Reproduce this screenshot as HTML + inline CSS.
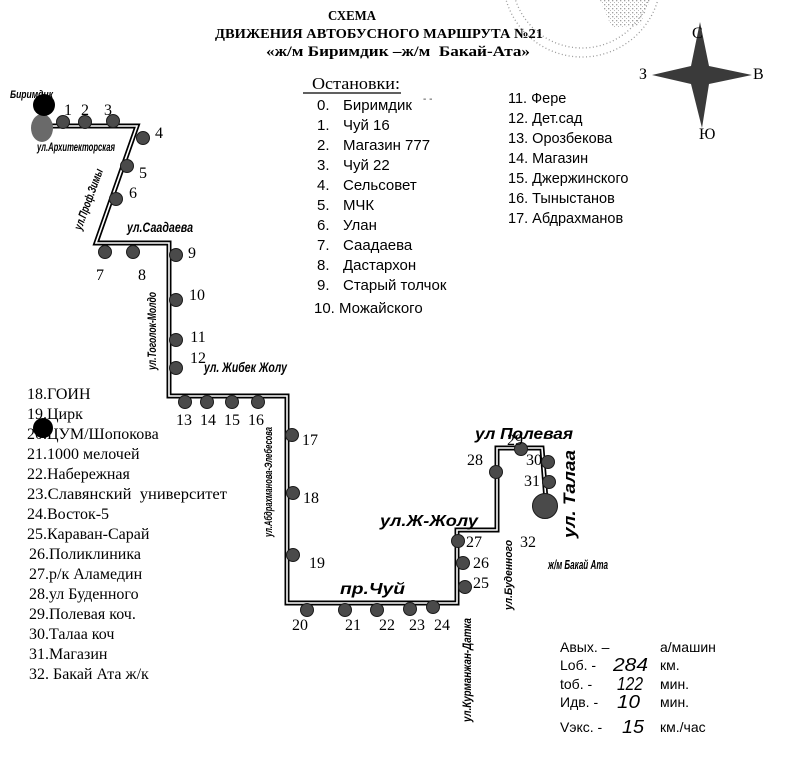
<!DOCTYPE html>
<html><head><meta charset="utf-8"><style>
html,body{margin:0;padding:0;background:#fff;}
svg{display:block;}
.ser{font-family:"Liberation Serif","DejaVu Serif",serif;}
.san{font-family:"Liberation Sans","DejaVu Sans",sans-serif;}
.st{font-family:"Liberation Sans","DejaVu Sans",sans-serif;font-style:italic;font-weight:bold;}
.num{font-family:"Liberation Serif",serif;font-size:16px;text-anchor:middle;}
</style></head><body>
<svg width="800" height="757" viewBox="0 0 800 757" xmlns="http://www.w3.org/2000/svg">
<defs>
<pattern id="spk" width="4" height="4" patternUnits="userSpaceOnUse">
<rect x="0" y="0" width="1.3" height="1.3" fill="#888"/>
<rect x="2" y="2" width="1" height="1" fill="#aaa"/>
</pattern>
</defs>
<rect width="800" height="757" fill="#fff"/>

<!-- stamp -->
<g fill="none" stroke="#999" stroke-width="1.3" stroke-dasharray="1 2.5">
<circle cx="582" cy="-22" r="79"/>
<circle cx="582" cy="-22" r="70"/>
</g>
<polygon points="600,0 650,0 640,25 612,28" fill="url(#spk)" opacity="0.8"/>

<!-- title -->
<text class="ser" x="328" y="20" font-size="14" font-weight="bold" textLength="48" lengthAdjust="spacingAndGlyphs">СХЕМА</text>
<text class="ser" x="215" y="38" font-size="14" font-weight="bold" textLength="328" lengthAdjust="spacingAndGlyphs">ДВИЖЕНИЯ АВТОБУСНОГО МАРШРУТА №21</text>
<text class="ser" x="266" y="56" font-size="15" font-weight="bold" textLength="264" lengthAdjust="spacingAndGlyphs">«ж/м Биримдик –ж/м&#160; Бакай-Ата»</text>

<!-- compass -->
<polygon points="700,22 709,66 752,75 709,84 702,128 691,84 652,75 691,66" fill="#3a3a3a"/>
<g class="ser" font-size="16">
<text x="692" y="38">С</text>
<text x="639" y="79">З</text>
<text x="753" y="79">В</text>
<text x="699" y="139">Ю</text>
</g>

<!-- stops list -->
<text class="ser" x="312" y="89" font-size="17" textLength="88" lengthAdjust="spacingAndGlyphs">Остановки:</text>
<line x1="303" y1="93" x2="401" y2="93" stroke="#000" stroke-width="1.2"/>
<g class="san" font-size="15">
<text x="317" y="110">0.</text><text x="343" y="110">Биримдик</text>
<text x="317" y="130">1.</text><text x="343" y="130">Чуй 16</text>
<text x="317" y="150">2.</text><text x="343" y="150">Магазин 777</text>
<text x="317" y="170">3.</text><text x="343" y="170">Чуй 22</text>
<text x="317" y="190">4.</text><text x="343" y="190">Сельсовет</text>
<text x="317" y="210">5.</text><text x="343" y="210">МЧК</text>
<text x="317" y="230">6.</text><text x="343" y="230">Улан</text>
<text x="317" y="250">7.</text><text x="343" y="250">Саадаева</text>
<text x="317" y="270">8.</text><text x="343" y="270">Дастархон</text>
<text x="317" y="290">9.</text><text x="343" y="290">Старый толчок</text>
<text x="314" y="313">10. Можайского</text>
</g>
<text x="423" y="102" font-size="10" fill="#333" class="san">- -</text>
<g class="san" font-size="14.5">
<text x="508" y="103">11. Фере</text>
<text x="508" y="123">12. Дет.сад</text>
<text x="508" y="143">13. Орозбекова</text>
<text x="508" y="163">14. Магазин</text>
<text x="508" y="183">15. Джержинского</text>
<text x="508" y="203">16. Тыныстанов</text>
<text x="508" y="223">17. Абдрахманов</text>
</g>

<!-- left list -->
<g class="ser" font-size="16">
<text x="27" y="399">18.ГОИН</text>
<text x="27" y="419">19.Цирк</text>
<text x="27" y="439">20.ЦУМ/Шопокова</text>
<text x="27" y="459">21.1000 мелочей</text>
<text x="27" y="479">22.Набережная</text>
<text x="27" y="499" textLength="200" lengthAdjust="spacingAndGlyphs">23.Славянский&#160; университет</text>
<text x="27" y="519">24.Восток-5</text>
<text x="27" y="539">25.Караван-Сарай</text>
<text x="29" y="559">26.Поликлиника</text>
<text x="29" y="579">27.р/к Аламедин</text>
<text x="29" y="599">28.ул Буденного</text>
<text x="29" y="619">29.Полевая коч.</text>
<text x="29" y="639">30.Талаа коч</text>
<text x="29" y="659">31.Магазин</text>
<text x="29" y="679">32. Бакай Ата ж/к</text>
</g>
<circle cx="43" cy="428" r="10" fill="#000"/>

<!-- road -->
<path d="M45,126 L137,126 L96,243 L169,243 L169,396 L287,396 L287,603 L457,603 L457,530 L497,530 L497,448 L542,448 L546,500" fill="none" stroke="#000" stroke-width="5"/>
<path d="M45,126 L137,126 L96,243 L169,243 L169,396 L287,396 L287,603 L457,603 L457,530 L497,530 L497,448 L542,448 L546,500" fill="none" stroke="#fff" stroke-width="1.6"/>

<!-- start -->
<text class="st" x="10" y="98" font-size="11" textLength="43" lengthAdjust="spacingAndGlyphs">Биримдик</text>
<ellipse cx="42" cy="128" rx="11" ry="14" fill="#6a6a6a"/>
<circle cx="44" cy="105" r="11" fill="#000"/>

<!-- stops -->
<g fill="#4a4a4a" stroke="#1a1a1a" stroke-width="1">
<circle cx="63" cy="122" r="6.5"/>
<circle cx="85" cy="122" r="6.5"/>
<circle cx="113" cy="121" r="6.5"/>
<circle cx="143" cy="138" r="6.5"/>
<circle cx="127" cy="166" r="6.5"/>
<circle cx="116" cy="199" r="6.5"/>
<circle cx="105" cy="252" r="6.5"/>
<circle cx="133" cy="252" r="6.5"/>
<circle cx="176" cy="255" r="6.5"/>
<circle cx="176" cy="300" r="6.5"/>
<circle cx="176" cy="340" r="6.5"/>
<circle cx="176" cy="368" r="6.5"/>
<circle cx="185" cy="402" r="6.5"/>
<circle cx="207" cy="402" r="6.5"/>
<circle cx="232" cy="402" r="6.5"/>
<circle cx="258" cy="402" r="6.5"/>
<circle cx="292" cy="435" r="6.5"/>
<circle cx="293" cy="493" r="6.5"/>
<circle cx="293" cy="555" r="6.5"/>
<circle cx="307" cy="610" r="6.5"/>
<circle cx="345" cy="610" r="6.5"/>
<circle cx="377" cy="610" r="6.5"/>
<circle cx="410" cy="609" r="6.5"/>
<circle cx="433" cy="607" r="6.5"/>
<circle cx="465" cy="587" r="6.5"/>
<circle cx="463" cy="563" r="6.5"/>
<circle cx="458" cy="541" r="6.5"/>
<circle cx="496" cy="472" r="6.5"/>
<circle cx="521" cy="449" r="6.5"/>
<circle cx="548" cy="462" r="6.5"/>
<circle cx="549" cy="482" r="6.5"/>
<circle cx="545" cy="506" r="12.5"/>
</g>

<!-- stop numbers -->
<g class="num">
<text x="68" y="115">1</text>
<text x="85" y="115">2</text>
<text x="108" y="115">3</text>
<text x="159" y="138">4</text>
<text x="143" y="178">5</text>
<text x="133" y="198">6</text>
<text x="100" y="280">7</text>
<text x="142" y="280">8</text>
<text x="192" y="258">9</text>
<text x="197" y="300">10</text>
<text x="198" y="342">11</text>
<text x="198" y="363">12</text>
<text x="184" y="425">13</text>
<text x="208" y="425">14</text>
<text x="232" y="425">15</text>
<text x="256" y="425">16</text>
<text x="310" y="445">17</text>
<text x="311" y="503">18</text>
<text x="317" y="568">19</text>
<text x="300" y="630">20</text>
<text x="353" y="630">21</text>
<text x="387" y="630">22</text>
<text x="417" y="630">23</text>
<text x="442" y="630">24</text>
<text x="481" y="588">25</text>
<text x="481" y="568">26</text>
<text x="474" y="547">27</text>
<text x="475" y="465">28</text>
<text x="515" y="445">29</text>
<text x="534" y="465">30</text>
<text x="532" y="486">31</text>
<text x="528" y="547">32</text>
</g>

<!-- street labels -->
<text class="st" x="37" y="151" font-size="12" textLength="78" lengthAdjust="spacingAndGlyphs">ул.Архитекторская</text>
<text class="st" transform="translate(96,202) rotate(-70)" x="0" y="-4" font-size="12" text-anchor="middle" textLength="64" lengthAdjust="spacingAndGlyphs">ул.Проф.Зимы</text>
<text class="st" x="127" y="232" font-size="14" textLength="66" lengthAdjust="spacingAndGlyphs">ул.Саадаева</text>
<text class="st" transform="translate(152,331) rotate(-90)" x="0" y="4" font-size="12" text-anchor="middle" textLength="78" lengthAdjust="spacingAndGlyphs">ул.Тоголок-Молдо</text>
<text class="st" x="204" y="372" font-size="14" textLength="83" lengthAdjust="spacingAndGlyphs">ул. Жибек Жолу</text>
<text class="st" transform="translate(268,482) rotate(-90)" x="0" y="4" font-size="11" text-anchor="middle" textLength="110" lengthAdjust="spacingAndGlyphs">ул.Абдрахманова-Элебесова</text>
<text class="st" x="340" y="594" font-size="16" textLength="65" lengthAdjust="spacingAndGlyphs">пр.Чуй</text>
<text class="st" x="380" y="526" font-size="16" textLength="98" lengthAdjust="spacingAndGlyphs">ул.Ж-Жолу</text>
<text class="st" transform="translate(467,670) rotate(-90)" x="0" y="4" font-size="12" text-anchor="middle" textLength="104" lengthAdjust="spacingAndGlyphs">ул.Курманжан-Датка</text>
<text class="st" transform="translate(508,575) rotate(-90)" x="0" y="4" font-size="11" text-anchor="middle" textLength="70" lengthAdjust="spacingAndGlyphs">ул.Буденного</text>
<text class="st" x="475" y="439" font-size="16" textLength="98" lengthAdjust="spacingAndGlyphs">ул Полевая</text>
<text class="st" transform="translate(569,494) rotate(-90)" x="0" y="6" font-size="17" text-anchor="middle" textLength="88" lengthAdjust="spacingAndGlyphs">ул. Талаа</text>
<text class="st" x="548" y="569" font-size="13" textLength="60" lengthAdjust="spacingAndGlyphs">ж/м Бакай Ата</text>

<!-- table -->
<g class="san" font-size="14">
<text x="560" y="652">Авых. –</text><text x="660" y="652">а/машин</text>
<text x="560" y="670">Lоб. -</text><text x="660" y="670">км.</text>
<text x="560" y="689">tоб. -</text><text x="660" y="689">мин.</text>
<text x="560" y="707">Идв. -</text><text x="660" y="707">мин.</text>
<text x="560" y="732">Vэкс. -</text><text x="660" y="732">км./час</text>
</g>
<g class="san" font-size="18" font-style="italic">
<text x="613" y="671" textLength="35" lengthAdjust="spacingAndGlyphs">284</text>
<text x="617" y="690" textLength="26" lengthAdjust="spacingAndGlyphs">122</text>
<text x="617" y="708" textLength="23" lengthAdjust="spacingAndGlyphs">10</text>
<text x="622" y="733" textLength="22" lengthAdjust="spacingAndGlyphs">15</text>
</g>
</svg>
</body></html>
